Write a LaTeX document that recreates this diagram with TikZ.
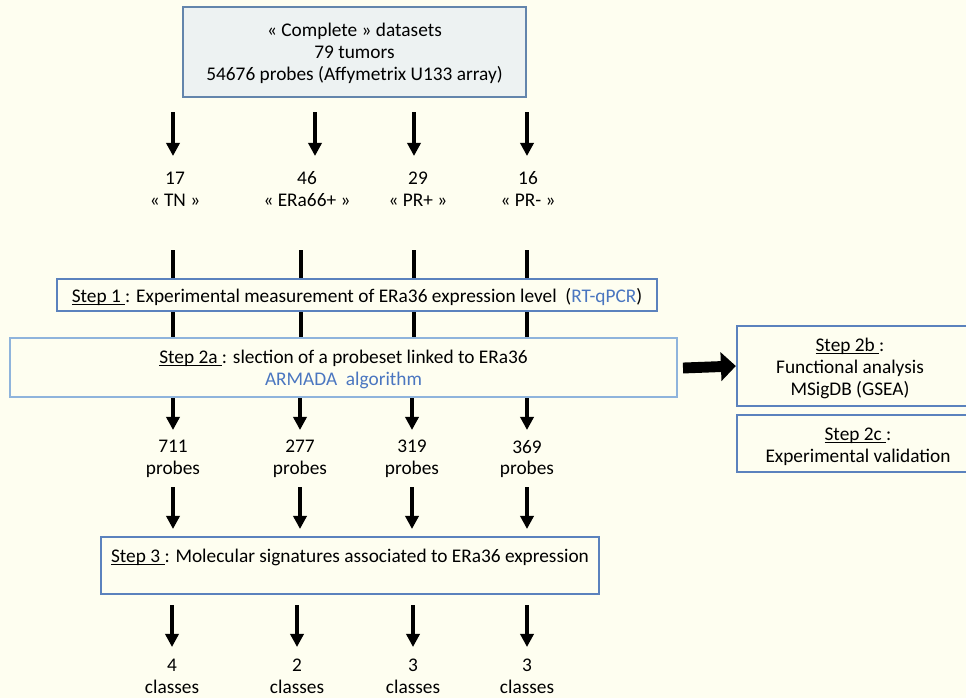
\documentclass[tikz,border=0pt]{standalone}
\usepackage{fontspec}
\setmainfont{Carlito}
\usetikzlibrary{arrows.meta,positioning}
\definecolor{paper}{HTML}{FEFEF0}
\definecolor{frameblue}{HTML}{5B82BD}
\definecolor{lightblue}{HTML}{8FB4DC}
\definecolor{steel}{HTML}{6385AC}
\definecolor{topfill}{HTML}{EDF2F2}
\definecolor{linkblue}{HTML}{4A76C0}
\tikzset{
  stepbox/.style={draw=frameblue, line width=1.3pt, fill=paper, inner sep=0pt},
  lab/.style={font=\fontsize{11}{12.5}\selectfont, align=center, inner sep=0pt},
  down/.style={-{Triangle[length=7.5pt, width=7.5pt]}, line width=2.1pt, black},
  bar/.style={line width=1.9pt, black},
  fat/.style={-{Triangle[length=8.5pt, width=16pt]}, line width=6.2pt, black},
}
\newcommand{\stp}[1]{\setbox0\hbox{#1\ }\rlap{\rule[-1.4pt]{\wd0}{0.5pt}}#1\ }

\begin{document}
\begin{tikzpicture}[x=0.02cm, y=-0.02cm]
  \fill[paper] (0,0) rectangle (966,698);
  \useasboundingbox (0,0) rectangle (966,698);

  % source datasets
  \node[draw=steel, line width=1.3pt, fill=topfill, minimum width=343*0.02cm, minimum height=90*0.02cm] (data) at (354.5,52) {};
  \node[lab] (datatxt) at (354.5,53) {« Complete » datasets\\79 tumors\\54676 probes (Affymetrix U133 array)};

  % four subgroups
  \foreach \i/\ax/\tx/\n/\lab in {0/173/175/17/« TN », 1/315/307/46/« ERa66+ », 2/414/418/29/« PR+ », 3/527/528/16/« PR- »}{
    \coordinate (a\i) at (\ax,112);
    \coordinate (b\i) at (\ax,156);
    \draw[down] (a\i) -- (b\i);
    \node[lab] (g\i) at (\tx,189) {\n\\\lab};
  }

  % bars through step 1
  \foreach \i/\ax in {0/173, 1/301, 2/414, 3/527}{
    \coordinate (c\i) at (\ax,250);
    \coordinate (d\i) at (\ax,338);
    \draw[bar] (c\i) -- (d\i);
  }

  % step 1
  \node[stepbox, minimum width=600*0.02cm, minimum height=32*0.02cm] (s1) at (357,295) {};
  \node[lab] (s1txt) at (357,297) {\stp{Step 1}: Experimental measurement of ERa36 expression level\ \ (\textcolor{linkblue}{RT-qPCR})};

  % step 2a
  \node[stepbox, draw=lightblue, minimum width=667*0.02cm, minimum height=59*0.02cm] (s2a) at (343.5,367.5) {};
  \node[lab] (s2atxt) at (343.5,369) {\stp{Step 2a}: slection of a probeset linked to ERa36\\\textcolor{linkblue}{ARMADA\ \ algorithm}};

  % steps 2b and 2c
  \node[stepbox, minimum width=240*0.02cm, minimum height=80*0.02cm] (s2b) at (857,366) {};
  \node[lab] (s2btxt) at (850,368) {\stp{Step 2b}:\\Functional analysis\\MSigDB (GSEA)};
  \node[stepbox, minimum width=240*0.02cm, minimum height=57*0.02cm] (s2c) at (857,443.5) {};
  \node[lab] (s2ctxt) at (858,447) {\stp{Step 2c}:\\Experimental validation};
  \coordinate (f0) at (683,368);
  \draw[fat] (f0) -- (s2b.west);

  % probesets
  \foreach \i/\ax/\n in {0/173/711, 1/300/277, 2/412/319, 3/527/369}{
    \coordinate (e\i) at (\ax,398);
    \coordinate (h\i) at (\ax,430);
    \draw[down] (e\i) -- (h\i);
    \node[lab] (p\i) at (\ax,459) {\n\\probes};
    \coordinate (k\i) at (\ax,487);
    \coordinate (m\i) at (\ax,529);
    \draw[down] (k\i) -- (m\i);
  }

  % step 3
  \node[stepbox, minimum width=498*0.02cm, minimum height=57*0.02cm] (s3) at (350,565.5) {};
  \node[lab] (s3txt) at (350,557) {\stp{Step 3}: Molecular signatures associated to ERa36 expression};

  % classes
  \foreach \i/\ax/\n in {0/172/4, 1/297/2, 2/413/3, 3/527/3}{
    \coordinate (q\i) at (\ax,605);
    \coordinate (r\i) at (\ax,647);
    \draw[down] (q\i) -- (r\i);
    \node[lab] (n\i) at (\ax,676) {\n\\classes};
  }
\end{tikzpicture}
\end{document}
